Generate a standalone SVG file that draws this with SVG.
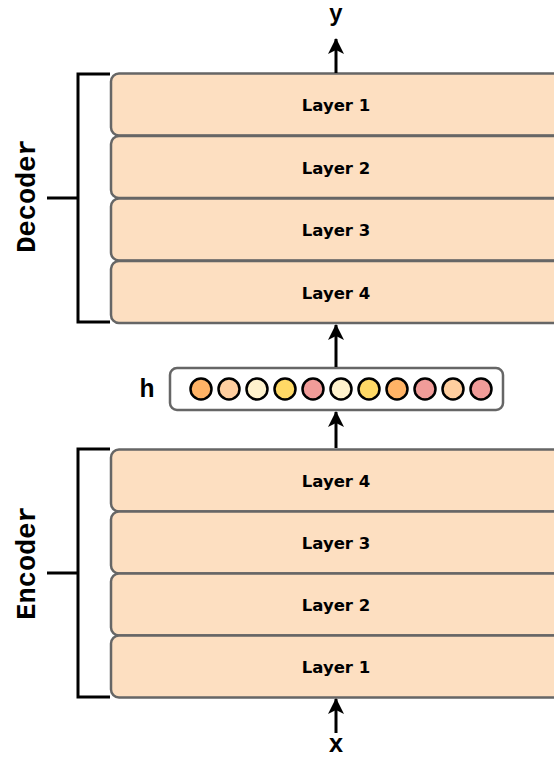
<svg xmlns="http://www.w3.org/2000/svg" width="554" height="759" viewBox="0 0 554 759">
<style>
.layer{fill:#FDDFC1;stroke:#666666;stroke-width:2.5}
.lt{font-family:"DejaVu Sans",Verdana,sans-serif;font-weight:bold;font-size:16.5px;fill:#000;text-anchor:middle}
.mono{font-family:"Liberation Mono","Courier New",monospace;font-weight:bold;font-size:27px;fill:#000}
.sm{font-size:25px}
.br{fill:none;stroke:#000;stroke-width:3}
.edge{stroke:#000;stroke-width:3;fill:none}
.c{stroke:#000;stroke-width:2.5}
</style>
<defs>
<marker id="ah" markerWidth="17" markerHeight="17" viewBox="0 0 17 17" refX="15" refY="8.5" orient="auto" markerUnits="userSpaceOnUse">
<path d="M16,8.5 L0,0.5 L4,8.5 L0,16.5 Z" fill="#000"/>
</marker>
</defs>
<g id="labels">
<text class="mono" x="336" y="21" text-anchor="middle" style="font-size:23px">y</text>
<text class="mono sm" x="336" y="752" text-anchor="middle">x</text>
<text class="mono sm" x="147" y="397" text-anchor="middle">h</text>
<text class="mono" transform="translate(35,196) rotate(-90)" text-anchor="middle">Decoder</text>
<text class="mono" transform="translate(35,563) rotate(-90)" text-anchor="middle">Encoder</text>
</g>
<g id="brackets">
<path class="br" d="M110,74 H78 V322 H110 M47,198 H78"/>
<path class="br" d="M110,449 H78 V697 H110 M47,573 H78"/>
</g>
<g id="dec-layer1"><rect class="layer" x="111" y="73.5" width="450" height="62" rx="8"/><text class="lt" x="336" y="111">Layer 1</text></g>
<g id="dec-layer2"><rect class="layer" x="111" y="136" width="450" height="62" rx="8"/><text class="lt" x="336" y="173.5">Layer 2</text></g>
<g id="dec-layer3"><rect class="layer" x="111" y="198.5" width="450" height="62" rx="8"/><text class="lt" x="336" y="236">Layer 3</text></g>
<g id="dec-layer4"><rect class="layer" x="111" y="261" width="450" height="62" rx="8"/><text class="lt" x="336" y="298.5">Layer 4</text></g>
<g id="enc-layer4"><rect class="layer" x="111" y="449.5" width="450" height="62" rx="8"/><text class="lt" x="336" y="487">Layer 4</text></g>
<g id="enc-layer3"><rect class="layer" x="111" y="511.5" width="450" height="62" rx="8"/><text class="lt" x="336" y="549">Layer 3</text></g>
<g id="enc-layer2"><rect class="layer" x="111" y="573.5" width="450" height="62" rx="8"/><text class="lt" x="336" y="611">Layer 2</text></g>
<g id="enc-layer1"><rect class="layer" x="111" y="635.5" width="450" height="62" rx="8"/><text class="lt" x="336" y="673">Layer 1</text></g>
<g id="h-vector">
<rect x="170" y="368" width="333" height="42" rx="7" fill="#fff" stroke="#666666" stroke-width="2.5"/>
<circle class="c" cx="201" cy="389" r="10.5" fill="#FFB366"/>
<circle class="c" cx="229" cy="389" r="10.5" fill="#FFCE9F"/>
<circle class="c" cx="257" cy="389" r="10.5" fill="#FFF2CC"/>
<circle class="c" cx="285" cy="389" r="10.5" fill="#FFD966"/>
<circle class="c" cx="313" cy="389" r="10.5" fill="#F19C99"/>
<circle class="c" cx="341" cy="389" r="10.5" fill="#FFF2CC"/>
<circle class="c" cx="369" cy="389" r="10.5" fill="#FFD966"/>
<circle class="c" cx="397" cy="389" r="10.5" fill="#FFB366"/>
<circle class="c" cx="425" cy="389" r="10.5" fill="#F19C99"/>
<circle class="c" cx="453" cy="389" r="10.5" fill="#FFCE9F"/>
<circle class="c" cx="481" cy="389" r="10.5" fill="#F19C99"/>
</g>
<g id="connectors">
<line class="edge" x1="336" y1="73" x2="336" y2="39" marker-end="url(#ah)"/>
<line class="edge" x1="336" y1="367" x2="336" y2="325" marker-end="url(#ah)"/>
<line class="edge" x1="336" y1="448" x2="336" y2="412" marker-end="url(#ah)"/>
<line class="edge" x1="336" y1="733" x2="336" y2="699" marker-end="url(#ah)"/>
</g>
</svg>
